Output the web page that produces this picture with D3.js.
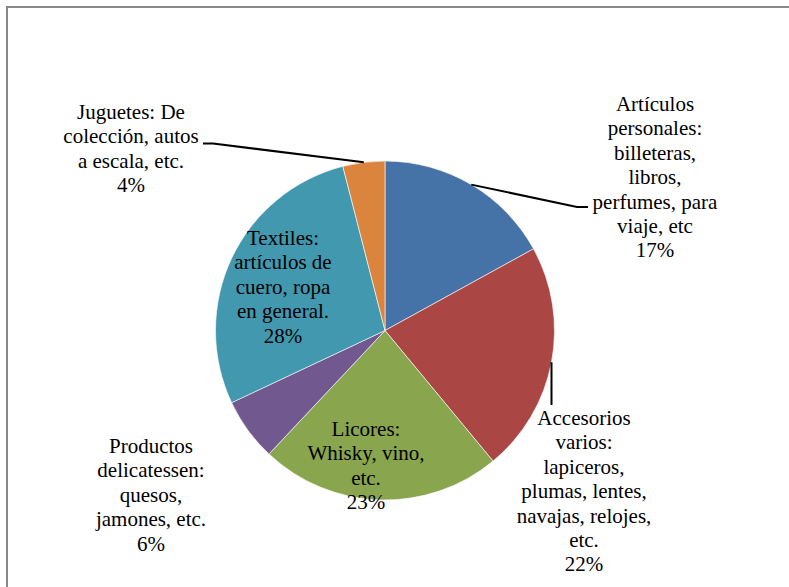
<!DOCTYPE html>
<meta charset="utf-8">
<body style="margin:0;background:#fff">
<svg width="789" height="587"></svg>
<script src="https://d3js.org/d3.v7.min.js"></script>
<script>
// slice data, clockwise from 12 o'clock
var categories = [
  ["Artículos", "personales:", "billeteras,", "libros,", "perfumes, para", "viaje, etc"],
  ["Accesorios", "varios:", "lapiceros,", "plumas, lentes,", "navajas, relojes,", "etc."],
  ["Licores:", "Whisky, vino,", "etc."],
  ["Productos", "delicatessen:", "quesos,", "jamones, etc."],
  ["Textiles:", "artículos de", "cuero, ropa", "en general."],
  ["Juguetes: De", "colección, autos", "a escala, etc."]
];
var values = [17, 22, 23, 6, 28, 4];
var colors = ["#4572A7", "#AA4643", "#89A54E", "#71588F", "#4198AF", "#DB843D"];

// label layout: centre x, first baseline, leader end points (null = no leader)
var labelPos = [
  {x: 655, y: 111, leader: [[577, 207], [588, 207]]},
  {x: 584, y: 425, leader: [[551.5, 405]]},
  {x: 366, y: 436, leader: null},
  {x: 151, y: 453, leader: null},
  {x: 283, y: 245, leader: null},
  {x: 131, y: 119, leader: [[213, 143.5], [203, 143.5]]}
];

var lineH = 24.4;
var cx = 385, cy = 330.5, r = 169.5;

var svg = d3.select("svg");

svg.append("rect")
    .attr("x", 7).attr("y", 7)
    .attr("width", 900).attr("height", 700)
    .attr("fill", "none")
    .attr("stroke", "#888")
    .attr("stroke-width", 2);

var pie = d3.pie().sort(null).value(function(d) { return d; });
var arcs = pie(values);
var arc = d3.arc().innerRadius(0).outerRadius(r);
var edge = d3.arc().innerRadius(r).outerRadius(r);

var g = svg.append("g").attr("transform", "translate(" + cx + "," + cy + ")");

g.selectAll("path")
  .data(arcs)
  .enter().append("path")
    .attr("d", arc)
    .attr("fill", function(d, i) { return colors[i]; })
    .attr("stroke", "#fff")
    .attr("stroke-width", 0.6);

// leader lines
arcs.forEach(function(d, i) {
  var p = labelPos[i];
  if (!p.leader) return;
  var c = edge.centroid(d);
  var pts = [[cx + c[0], cy + c[1]]].concat(p.leader);
  svg.append("path")
      .attr("d", d3.line()(pts))
      .attr("fill", "none")
      .attr("stroke", "#000")
      .attr("stroke-width", 2);
});

// labels
categories.forEach(function(lines, i) {
  var p = labelPos[i];
  var t = svg.append("text")
      .attr("text-anchor", "middle")
      .attr("font-family", "'Liberation Serif', 'Times New Roman', serif")
      .attr("font-size", 21)
      .attr("fill", "#000");
  lines.concat([values[i] + "%"]).forEach(function(s, k) {
    t.append("tspan")
        .attr("x", p.x)
        .attr("y", p.y + k * lineH)
        .text(s);
  });
});
</script>
</body>
